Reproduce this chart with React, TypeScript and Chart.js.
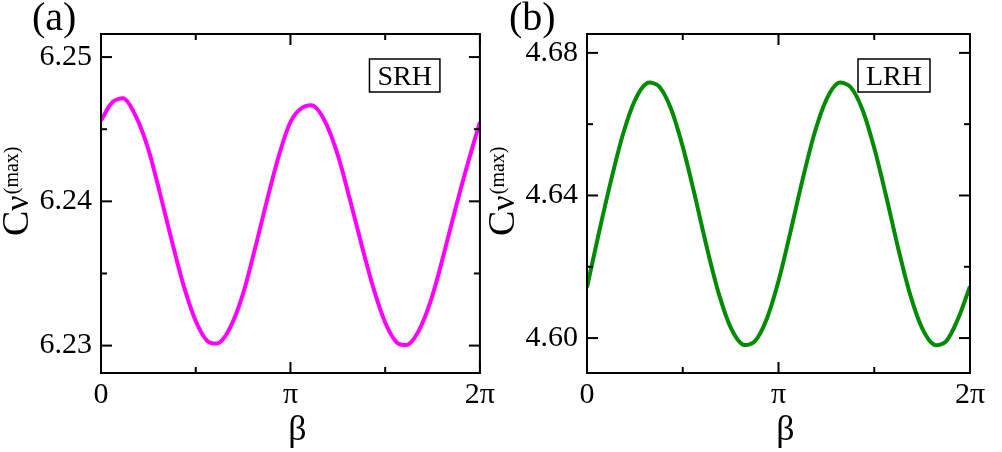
import React, { useEffect, useRef } from 'react';
import { Chart, registerables, ChartConfiguration, Plugin } from 'chart.js';
Chart.register(...registerables);

// beta in units of pi (0 .. 2pi)
const betaOverPi = [
  0, 0.0625, 0.125, 0.1875, 0.25, 0.3125, 0.375, 0.4375, 0.5,
  0.5625, 0.625, 0.6875, 0.75, 0.8125, 0.875, 0.9375, 1,
  1.0625, 1.125, 1.1875, 1.25, 1.3125, 1.375, 1.4375, 1.5,
  1.5625, 1.625, 1.6875, 1.75, 1.8125, 1.875, 1.9375, 2,
];

// (a) SRH
const cvSRH = [
  6.2456, 6.2469, 6.2471, 6.2458, 6.2436, 6.2405, 6.2372, 6.2341, 6.2317,
  6.2303, 6.2302, 6.2314, 6.2336, 6.2367, 6.2400, 6.2431, 6.2455,
  6.2465, 6.2466, 6.2454, 6.2432, 6.2402, 6.2370, 6.2340, 6.2316,
  6.2302, 6.2301, 6.2313, 6.2335, 6.2365, 6.2397, 6.2427, 6.2455,
];

// (b) LRH
const cvLRH = [
  4.6142, 4.6296, 4.6441, 4.6571, 4.6667, 4.6715, 4.6707, 4.6645, 4.6537,
  4.6401, 4.6256, 4.6126, 4.6030, 4.5982, 4.5990, 4.6052, 4.6160,
  4.6298, 4.6443, 4.6574, 4.6669, 4.6716, 4.6705, 4.6642, 4.6533,
  4.6397, 4.6252, 4.6122, 4.6028, 4.5981, 4.5991, 4.6054, 4.6145,
];

const xMajorTicks = [0, 1, 2];
const xMinorTicks = [0.5, 1.5];
const xTickLabels = ['0', 'π', '2π'];

const yMajorSRH = [6.23, 6.24, 6.25];
const yMinorSRH = [6.235, 6.245];
const yMajorLRH = [4.60, 4.64, 4.68];
const yMinorLRH = [4.62, 4.66];

const FONT = '"Liberation Serif", "DejaVu Serif", serif';

interface PanelProps {
  tag: string;       // "(a)"
  tagX: number;
  legend: string;    // "SRH"
  color: string;
  values: number[];
  yMin: number;
  yMax: number;
  yMajor: number[];
  yMinor: number[];
  left: number;
  width: number;
}

const decorPlugin = (p: PanelProps): Plugin => ({
  id: 'panelDecor',
  afterDatasetsDraw(chart) {
    const { ctx, chartArea: a } = chart;
    const xs = chart.scales.x;
    const ys = chart.scales.y;
    const seg = (x1: number, y1: number, x2: number, y2: number) => {
      ctx.beginPath();
      ctx.moveTo(x1, y1);
      ctx.lineTo(x2, y2);
      ctx.stroke();
    };
    ctx.save();
    ctx.strokeStyle = '#000';
    ctx.lineWidth = 2;
    ctx.lineCap = 'butt';
    // inward ticks on all four sides
    const xt = (vals: number[], len: number) => vals.forEach(v => {
      const px = xs.getPixelForValue(v);
      seg(px, a.bottom, px, a.bottom - len);
      seg(px, a.top, px, a.top + len);
    });
    const yt = (vals: number[], len: number) => vals.forEach(v => {
      const py = ys.getPixelForValue(v);
      seg(a.left, py, a.left + len, py);
      seg(a.right, py, a.right - len, py);
    });
    xt(xMajorTicks, 11);
    xt(xMinorTicks, 6);
    yt(p.yMajor, 11);
    yt(p.yMinor, 6);
    ctx.strokeRect(a.left, a.top, a.right - a.left, a.bottom - a.top);

    // legend box
    ctx.font = `28px ${FONT}`;
    const tw = ctx.measureText(p.legend).width;
    const bw = tw + 16;
    const bh = 33;
    const bx = a.right - 40 - bw;
    const by = a.top + 25;
    ctx.fillStyle = '#fff';
    ctx.fillRect(bx, by, bw, bh);
    ctx.lineWidth = 1.5;
    ctx.strokeRect(bx, by, bw, bh);
    ctx.fillStyle = '#000';
    ctx.textAlign = 'center';
    ctx.textBaseline = 'alphabetic';
    ctx.fillText(p.legend, bx + bw / 2, by + bh - 7);

    // panel tag
    ctx.textAlign = 'left';
    ctx.font = `40px ${FONT}`;
    ctx.fillText(p.tag, p.tagX, 30);

    // x title
    ctx.textAlign = 'center';
    ctx.font = `36px ${FONT}`;
    ctx.fillText('β', (a.left + a.right) / 2 + 7, 440);

    // y title  C_nu^(max)
    ctx.translate(a.left - 73, 236);
    ctx.rotate(-Math.PI / 2);
    ctx.textAlign = 'left';
    ctx.font = `38px ${FONT}`;
    ctx.fillText('C', 0, 0);
    let w = ctx.measureText('C').width;
    ctx.font = `34px ${FONT}`;
    ctx.fillText('ν', w, 0);
    w += ctx.measureText('ν').width + 1;
    ctx.font = `20px ${FONT}`;
    ctx.fillText('(max)', w, -10);
    ctx.restore();
  },
});

const Panel: React.FC<PanelProps> = (p) => {
  const canvasRef = useRef<HTMLCanvasElement>(null);

  useEffect(() => {
    if (!canvasRef.current) return;
    const cfg: ChartConfiguration<'line'> = {
      type: 'line',
      data: {
        datasets: [{
          data: betaOverPi.map((b, i) => ({ x: b, y: p.values[i] })),
          borderColor: p.color,
          borderWidth: 4,
          pointRadius: 0,
          tension: 0.3,
          fill: false,
        }],
      },
      options: {
        animation: false,
        responsive: true,
        maintainAspectRatio: false,
        layout: { padding: { left: 0, top: 34, right: p.width - 484, bottom: 0 } },
        plugins: { legend: { display: false }, tooltip: { enabled: false } },
        scales: {
          x: {
            type: 'linear',
            min: 0,
            max: 2,
            afterBuildTicks: (s) => { s.ticks = xMajorTicks.map(v => ({ value: v })); },
            afterFit: (s) => { s.height = 79; },
            grid: { display: false, drawTicks: false },
            border: { display: false },
            ticks: {
              autoSkip: false,
              maxRotation: 0,
              padding: 7,
              color: '#000',
              font: { family: FONT, size: 30, lineHeight: 1 },
              callback: (v) => xTickLabels[xMajorTicks.indexOf(Number(v))] ?? '',
            },
          },
          y: {
            type: 'linear',
            min: p.yMin,
            max: p.yMax,
            afterBuildTicks: (s) => { s.ticks = p.yMajor.map(v => ({ value: v })); },
            afterFit: (s) => { s.width = 101; },
            grid: { display: false, drawTicks: false },
            border: { display: false },
            ticks: {
              autoSkip: false,
              padding: 9,
              color: '#000',
              font: { family: FONT, size: 30, lineHeight: 1 },
              callback: (v) => Number(v).toFixed(2),
            },
          },
        },
      },
      plugins: [decorPlugin(p)],
    };
    const chart = new Chart(canvasRef.current, cfg);
    return () => chart.destroy();
  }, [p]);

  return (
    <div style={{ position: 'absolute', left: p.left, top: 0, width: p.width, height: 452 }}>
      <canvas ref={canvasRef}></canvas>
    </div>
  );
};

const panelA: PanelProps = {
  tag: '(a)', tagX: 32, legend: 'SRH', color: '#ff00ff', values: cvSRH,
  yMin: 6.2281, yMax: 6.2516, yMajor: yMajorSRH, yMinor: yMinorSRH,
  left: 0, width: 502,
};

const panelB: PanelProps = {
  tag: '(b)', tagX: 23, legend: 'LRH', color: '#008b00', values: cvLRH,
  yMin: 4.5902, yMax: 4.6853, yMajor: yMajorLRH, yMinor: yMinorLRH,
  left: 486, width: 516,
};

export default function App() {
  return (
    <div style={{ position: 'fixed', left: 0, top: 0, width: 1002, height: 452, background: '#fff', overflow: 'hidden' }}>
      <Panel {...panelA} />
      <Panel {...panelB} />
    </div>
  );
}
